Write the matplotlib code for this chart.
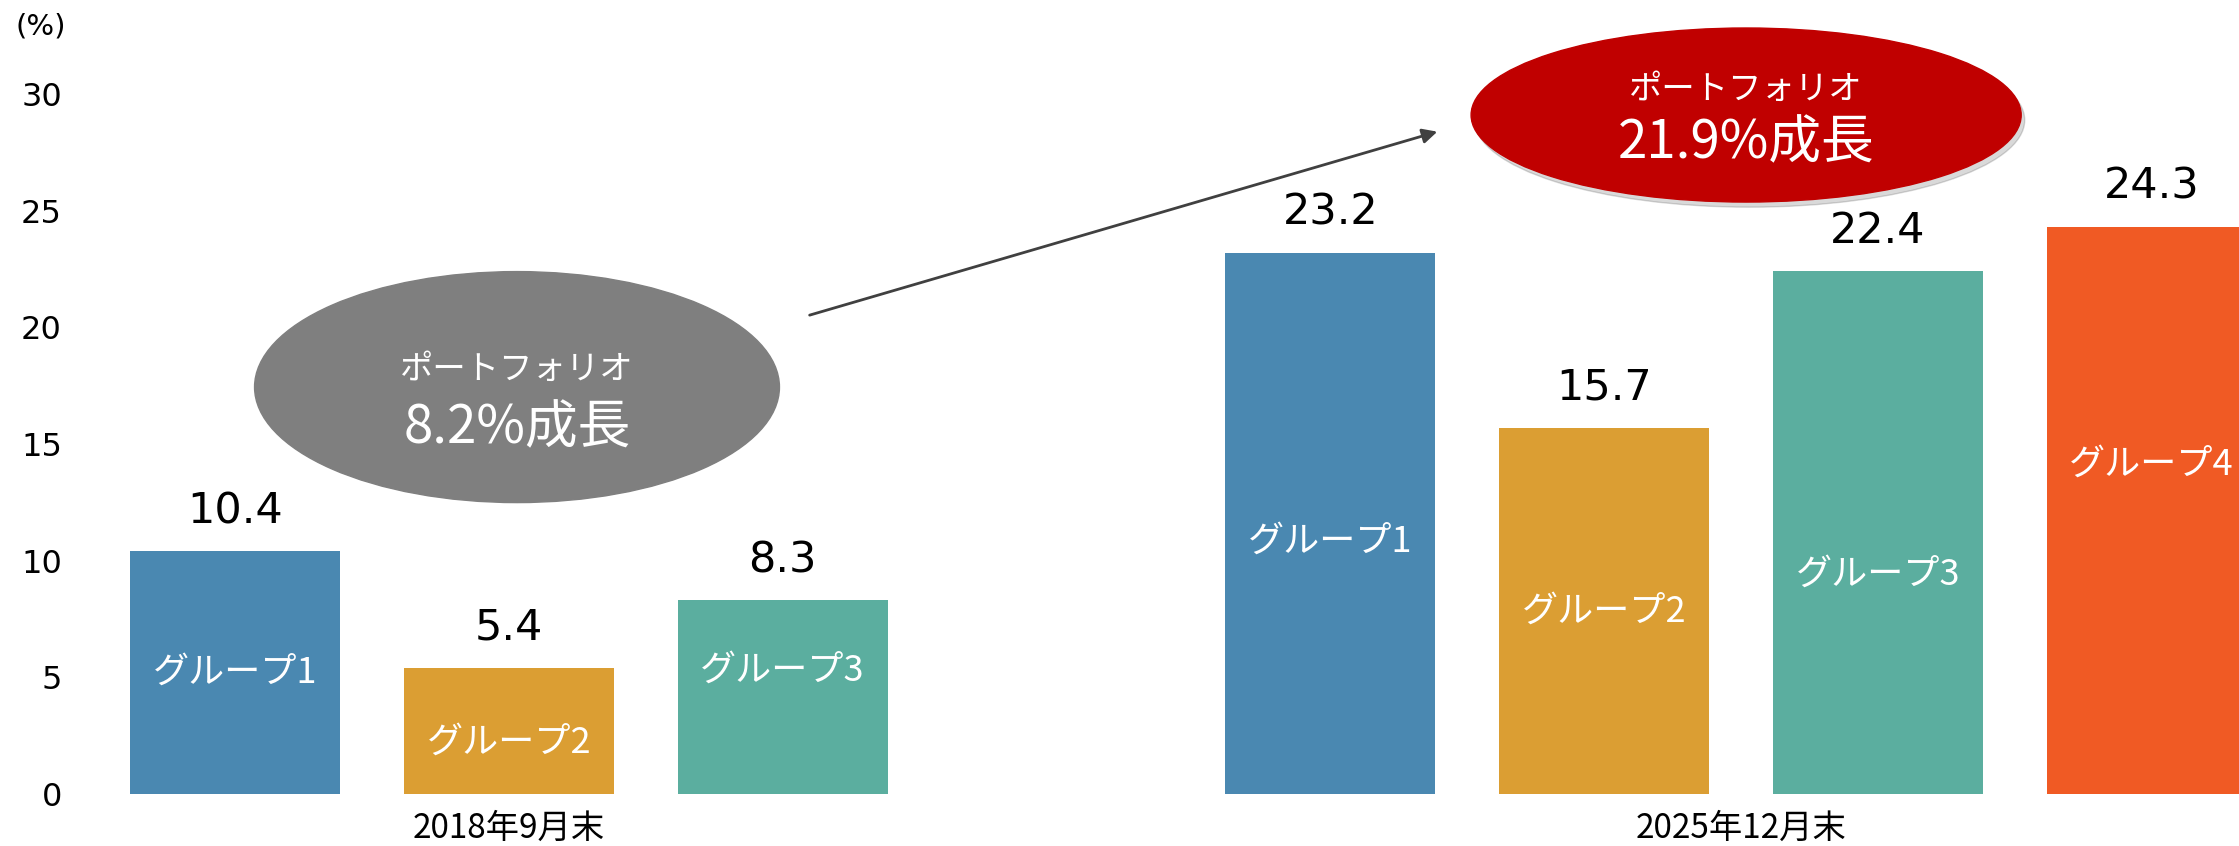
import matplotlib
matplotlib.use("Agg")
import matplotlib.pyplot as plt
from matplotlib.patches import Ellipse

plt.rcParams['font.family'] = ['Noto Sans CJK JP', 'DejaVu Sans']

# data
periods = ["2018年9月末", "2025年12月末"]
groups_2018 = ["グループ1", "グループ2", "グループ3"]
values_2018 = [10.4, 5.4, 8.3]
groups_2025 = ["グループ1", "グループ2", "グループ3", "グループ4"]
values_2025 = [23.2, 15.7, 22.4, 24.3]
growth_labels = ["8.2%成長", "21.9%成長"]
yticks = [0, 5, 10, 15, 20, 25, 30]

colors = ["#4a88b1", "#db9e33", "#5bae9f", "#f05a24"]

# layout
W, H = 2239, 846
left_px, zero_px = 80, 794
fig = plt.figure(figsize=(W / 100, H / 100), dpi=100)
ax = fig.add_axes([left_px / W, (H - zero_px) / H, 1 - left_px / W, zero_px / H])

x_2018 = [0, 1, 2]
x_2025 = [4, 5, 6, 7]
bar_w = 0.767
# where the white names sit inside each bar
inner_2018 = [5.2, 2.2, 5.3]
inner_2025 = [10.8, 7.8, 9.4, 14.1]

for xs, vals, names, inner in [(x_2018, values_2018, groups_2018, inner_2018),
                               (x_2025, values_2025, groups_2025, inner_2025)]:
    bars = ax.bar(xs, vals, width=bar_w, color=colors[:len(vals)], zorder=2)
    for x, v, name, iy in zip(xs, vals, names, inner):
        ax.annotate(f"{v:.1f}", (x, v), xytext=(0, 29), textcoords="offset points",
                    ha="center", va="center", fontsize=31, family="DejaVu Sans",
                    color="black", annotation_clip=False)
        ax.text(x, iy, name, ha="center", va="center", fontsize=26, color="white", zorder=3)

# period labels under the groups
for xc, lab in zip([1, 5.5], periods):
    ax.annotate(lab, (xc, 0), xytext=(0, -25), textcoords="offset points",
                ha="center", va="center", fontsize=24, annotation_clip=False)

ax.set_xlim(-0.566, 7.319)
ax.set_ylim(0, 34.03)
ax.set_yticks(yticks)
ax.set_yticklabels([str(t) for t in yticks], family="DejaVu Sans", fontsize=23)
ax.tick_params(axis="y", length=0, pad=13)
ax.set_xticks([])
for s in ax.spines.values():
    s.set_visible(False)

fig.text(41 / W, 1 - 27 / H, "(%)", ha="center", va="center", fontsize=21, family="DejaVu Sans")

# growth bubbles
gray = Ellipse((1.03, 17.44), 1.917, 9.9, color="#7f7f7f", zorder=4, clip_on=False)
ax.add_patch(gray)
ax.text(1.03, 18.2, "ポートフォリオ", ha="center", va="center", fontsize=24, color="white", zorder=5)
ax.text(1.03, 15.7, growth_labels[0], ha="center", va="center", fontsize=38, color="white", zorder=5)

shadow = Ellipse((5.532, 28.88), 2.009, 7.46, color="#000000", alpha=0.15, zorder=3, clip_on=False)
ax.add_patch(shadow)
red = Ellipse((5.519, 29.1), 2.009, 7.46, color="#c00000", zorder=4, clip_on=False)
ax.add_patch(red)
ax.text(5.519, 30.2, "ポートフォリオ", ha="center", va="center", fontsize=24, color="white", zorder=5)
ax.text(5.519, 27.9, growth_labels[1], ha="center", va="center", fontsize=38, color="white", zorder=5)

ax.annotate("", xy=(4.401, 28.42), xytext=(2.089, 20.49),
            arrowprops=dict(arrowstyle="-|>", color="#404040", lw=2, mutation_scale=22),
            annotation_clip=False)

fig.savefig("out.png", dpi=100)
